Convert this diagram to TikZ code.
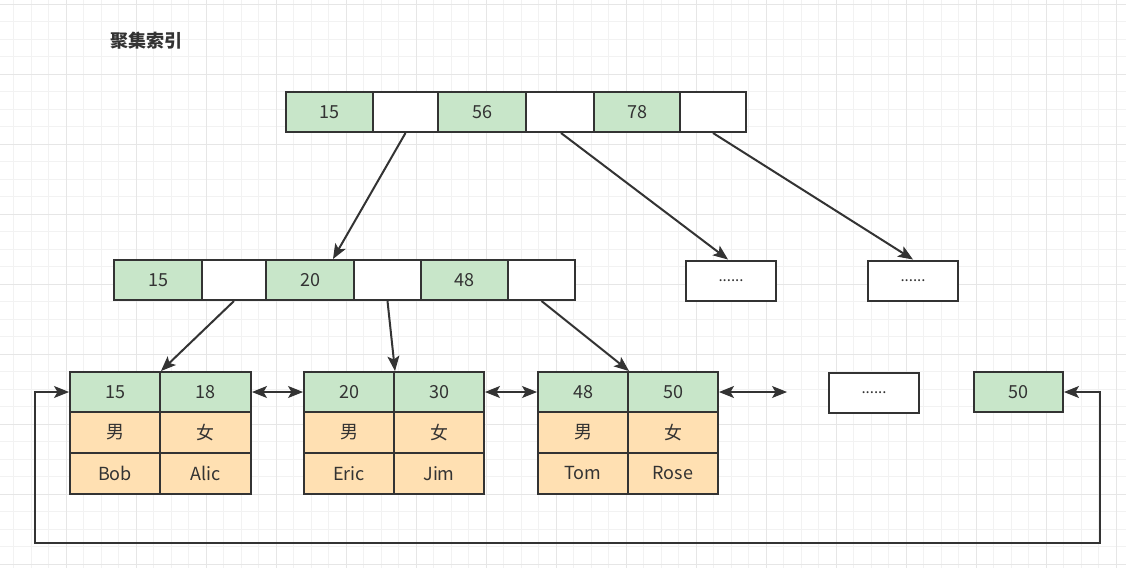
\documentclass[tikz,border=0pt]{standalone}
\usepackage{fontspec}
\setmainfont{Noto Sans CJK SC}
\usetikzlibrary{arrows.meta}
\definecolor{linec}{HTML}{333333}
\definecolor{textc}{HTML}{333333}
\definecolor{gfill}{HTML}{C8E6C9}
\definecolor{ofill}{HTML}{FFE0B2}
\definecolor{gridminor}{HTML}{F2F2F2}
\definecolor{gridmajor}{HTML}{E6E6E6}
\tikzset{
  cell/.style={draw=linec, line width=2pt, minimum height=40pt, inner sep=0pt,
    text=textc, font=\fontsize{18}{18}\selectfont},
  gcell/.style={cell, fill=gfill},
  wcell/.style={cell, fill=white},
  ocell/.style={cell, fill=ofill, minimum height=41pt},
  tip/.tip={Stealth[length=15pt,width=12pt,inset=3.5pt,line width=1pt]},
  conn/.style={draw=linec, line width=2pt, -tip},
  dconn/.style={draw=linec, line width=2pt, tip-tip},
  dots/.style={font=\fontsize{15}{15}\selectfont}
}
\begin{document}
\begin{tikzpicture}[x=1pt,y=-1pt]
\useasboundingbox (0,0) rectangle (1126,568);
\fill[white] (0,0) rectangle (1126,568);
% grid
\foreach \i in {0,...,65} {
  \draw[gridminor, line width=1pt] ({-4+17.5*\i},0) -- ({-4+17.5*\i},568);
}
\foreach \j in {0,...,33} {
  \draw[gridminor, line width=1pt] (0,{4+17.5*\j}) -- (1126,{4+17.5*\j});
}
\foreach \i in {0,...,17} {
  \draw[gridmajor, line width=1pt] ({-4+70*\i},0) -- ({-4+70*\i},568);
}
\foreach \j in {0,...,8} {
  \draw[gridmajor, line width=1pt] (0,{4+70*\j}) -- (1126,{4+70*\j});
}
% title
\node[text=textc, font=\fontsize{18}{18}\selectfont\bfseries] (title) at (146,41) {聚集索引};
% top row
\node[gcell, minimum width=87pt] (t1) at (329.5,112) {15};
\node[wcell, minimum width=65pt] (t2) at (405.5,112) {};
\node[gcell, minimum width=88pt] (t3) at (482,112) {56};
\node[wcell, minimum width=68pt] (t4) at (560,112) {};
\node[gcell, minimum width=86pt] (t5) at (637,112) {78};
\node[wcell, minimum width=66pt] (t6) at (713,112) {};
% middle row
\node[gcell, minimum width=88pt] (m1) at (158,280) {15};
\node[wcell, minimum width=64pt] (m2) at (234,280) {};
\node[gcell, minimum width=88pt] (m3) at (310,280) {20};
\node[wcell, minimum width=67pt] (m4) at (387.5,280) {};
\node[gcell, minimum width=87pt] (m5) at (464.5,280) {48};
\node[wcell, minimum width=67pt] (m6) at (541.5,280) {};
\node[wcell, minimum width=90pt, dots] (e1) at (731,280.5) {......};
\node[wcell, minimum width=90pt, dots] (e2) at (913,280.5) {......};
% leaves
\node[gcell, minimum width=90pt] (l1a) at (115,392) {15};
\node[gcell, minimum width=91pt] (l1b) at (205.5,392) {18};
\node[ocell, minimum width=90pt] (l1c) at (115,432.5) {男};
\node[ocell, minimum width=91pt] (l1d) at (205.5,432.5) {女};
\node[ocell, minimum width=90pt] (l1e) at (115,473.5) {Bob};
\node[ocell, minimum width=91pt] (l1f) at (205.5,473.5) {Alic};
\node[gcell, minimum width=90pt] (l2a) at (349,392) {20};
\node[gcell, minimum width=90pt] (l2b) at (439,392) {30};
\node[ocell, minimum width=90pt] (l2c) at (349,432.5) {男};
\node[ocell, minimum width=90pt] (l2d) at (439,432.5) {女};
\node[ocell, minimum width=90pt] (l2e) at (349,473.5) {Eric};
\node[ocell, minimum width=90pt] (l2f) at (439,473.5) {Jim};
\node[gcell, minimum width=90pt] (l3a) at (583,392) {48};
\node[gcell, minimum width=90pt] (l3b) at (673,392) {50};
\node[ocell, minimum width=90pt] (l3c) at (583,432.5) {男};
\node[ocell, minimum width=90pt] (l3d) at (673,432.5) {女};
\node[ocell, minimum width=90pt] (l3e) at (583,473.5) {Tom};
\node[ocell, minimum width=90pt] (l3f) at (673,473.5) {Rose};
\node[wcell, minimum width=90pt, dots] (e3) at (874,392.5) {......};
\node[gcell, minimum width=89pt] (n50) at (1018.5,392) {50};
% connectors
\draw[conn] (t2.south) -- ([xshift=23pt]m3.north);
\draw[conn] ([xshift=1pt]t4.south) -- ([xshift=-3pt]e1.north);
\draw[conn] (t6.south) -- (e2.north);
\draw[conn] (m2.south) -- (l1a.north east);
\draw[conn] (m4.south) -- (l2a.north east);
\draw[conn] (m6.south) -- (l3a.north east);
\draw[dconn] (l1b.east) -- (l2a.west);
\draw[dconn] (l2b.east) -- (l3a.west);
\coordinate (free) at (787,392);
\draw[dconn] (l3b.east) -- (free);
\draw[dconn] (n50.east) -- ++(36,0) -- ++(0,151) -| ([xshift=-34pt]l1a.west) -- (l1a.west);
\end{tikzpicture}
\end{document}
